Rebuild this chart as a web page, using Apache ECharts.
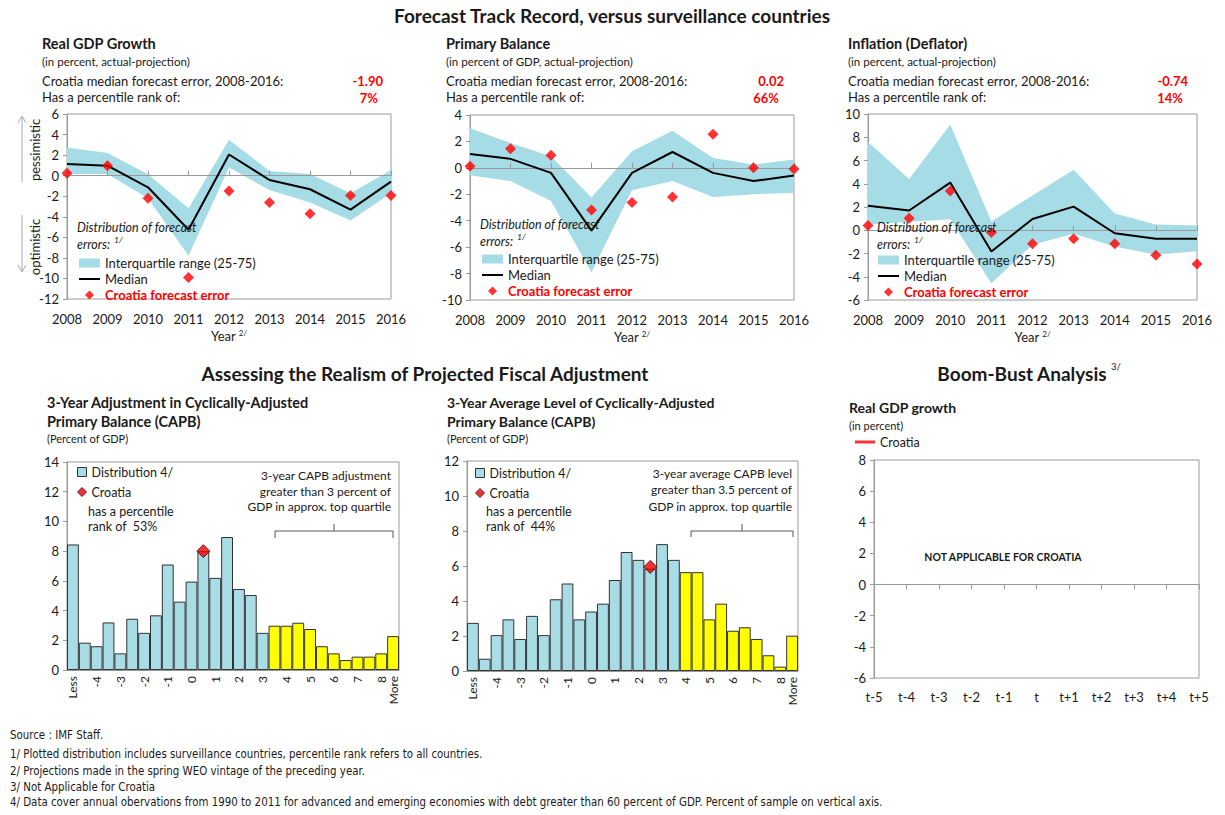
<!DOCTYPE html>
<html>
<head>
<meta charset="UTF-8">
<title>Forecast Track Record</title>
<script src="https://cdn.jsdelivr.net/npm/echarts@6/dist/echarts.min.js"></script>
<style>
  html, body { margin: 0; padding: 0; background: #fff; }
  #main { width: 1225px; height: 815px; }
</style>
</head>
<body>
<div id="main"></div>
<script type="text/javascript">
  // ---- data ----
  var years = ['2008', '2009', '2010', '2011', '2012', '2013', '2014', '2015', '2016'];

  // Real GDP growth forecast errors
  var gdpP25 = [0.16, 0.16, -2.2, -7.8, 0.8, -1.4, -2.6, -4.35, -1.7];
  var gdpP75 = [2.74, 2.2, 0.15, -3.16, 3.5, 0.45, 0.16, -1.7, 0.55];
  var gdpMedian = [1.13, 0.97, -1.13, -5.26, 2.06, -0.42, -1.32, -3.3, -0.58];
  var gdpCroatia = [0.23, 0.97, -2.2, -9.9, -1.48, -2.6, -3.7, -1.94, -1.94];

  // Primary balance forecast errors
  var pbP25 = [-0.55, -1.0, -2.5, -7.9, -1.7, -1.0, -2.2, -2.0, -1.88];
  var pbP75 = [3.0, 1.88, 0.88, -2.25, 1.25, 2.8, 0.75, 0.25, 0.63];
  var pbMedian = [1.05, 0.68, -0.38, -4.75, -0.38, 1.2, -0.38, -1.0, -0.58];
  var pbCroatia = [0.12, 1.45, 0.95, -3.18, -2.63, -2.2, 2.55, 0.0, -0.08];

  // Inflation (deflator) forecast errors
  var infP25 = [0.5, 0.74, 0.95, -4.55, -1.25, -0.3, -1.4, -2.1, -1.8];
  var infP75 = [7.6, 4.4, 9.1, 0.75, 3.0, 5.2, 1.45, 0.5, 0.4];
  var infMedian = [2.1, 1.7, 4.1, -1.83, 0.97, 2.03, -0.26, -0.74, -0.74];
  var infCroatia = [0.4, 1.03, 3.37, -0.2, -1.17, -0.74, -1.17, -2.14, -2.9];

  // CAPB histograms (percent of sample)
  var binLabels = ['Less', '-4.5', '-4', '-3.5', '-3', '-2.5', '-2', '-1.5', '-1', '-0.5', '0', '0.5', '1', '1.5',
                   '2', '2.5', '3', '3.5', '4', '4.5', '5', '5.5', '6', '6.5', '7', '7.5', '8', 'More'];
  var adjCounts = [8.45, 1.84, 1.6, 3.2, 1.12, 3.45, 2.5, 3.68, 7.1, 4.6, 5.95, 8.0, 6.2, 8.95,
                   5.45, 5.05, 2.5, 2.98, 2.98, 3.18, 2.76, 1.6, 1.12, 0.67, 0.9, 0.9, 1.12, 2.28];
  var lvlCounts = [2.75, 0.7, 2.05, 2.95, 1.83, 3.15, 2.05, 4.1, 5.0, 2.95, 3.4, 3.85, 5.2, 6.8,
                   6.35, 5.85, 7.25, 6.35, 5.65, 5.65, 2.95, 3.85, 2.3, 2.5, 1.83, 0.9, 0.25, 2.02];
  var adjTopStart = '3.5';   // first bin of the top quartile
  var lvlTopStart = '4';
  var adjCroatia = [['0.5', 8.0]];
  var lvlCroatia = [['2.5', 5.95]];

  // Boom-bust (not applicable)
  var boomLabels = ['t-5', 't-4', 't-3', 't-2', 't-1', 't', 't+1', 't+2', 't+3', 't+4', 't+5'];
  var boomCroatia = [];

  // ---- styling ----
  var FONT = 'Lato, "Liberation Sans", sans-serif';
  var BAND = '#a6dce6';
  var BAR = '#a9dde6';
  var RED = '#ff0000';
  var AXIS = '#9a9a9a';
  var TXT = '#1a1a1a';
  var DIAMOND = 'path://M5,0L10,5L5,10L0,5Z';

  var myChart = echarts.init(document.getElementById('main'), null, {renderer: 'svg'});

  function diff(up, lo) {
    return up.map(function (v, i) { return +(v - lo[i]).toFixed(2); });
  }

  function txt(x, y, text, o) {
    o = o || {};
    return {
      type: 'text', x: x, y: y, silent: true, z: 100,
      rotation: o.rotation || 0,
      style: {
        text: text,
        fill: o.color || TXT,
        fontSize: o.size || 13,
        fontWeight: o.bold ? 'bold' : 'normal',
        fontStyle: o.italic ? 'italic' : 'normal',
        fontFamily: o.family || FONT,
        align: o.align || 'left',
        textAlign: o.align || 'left',
        verticalAlign: 'middle',
        textVerticalAlign: 'middle'
      }
    };
  }

  function seg(pts, color) {
    return {type: 'polyline', silent: true, z: 100, shape: {points: pts},
            style: {stroke: color || '#555', lineWidth: 1, fill: null}};
  }

  // ---- grids ----
  var grids = [
    {left: 67, top: 114, width: 324, height: 185},
    {left: 470, top: 115, width: 324, height: 185},
    {left: 868, top: 114, width: 329, height: 186},
    {left: 67, top: 462, width: 332, height: 208},
    {left: 467, top: 461, width: 331, height: 210},
    {left: 874, top: 460, width: 325, height: 218}
  ].map(function (g) {
    g.show = true; g.borderColor = AXIS; g.borderWidth = 1; g.backgroundColor = '#fff';
    return g;
  });

  var xAxes = [];
  var yAxes = [];
  var series = [];

  function zeroAxis(g, cats, inside) {
    return {gridIndex: g, type: 'category', data: cats, boundaryGap: false, z: 3,
            axisLine: {onZero: true, lineStyle: {color: AXIS}},
            axisTick: {inside: inside, length: 5, interval: 0, lineStyle: {color: AXIS}},
            axisLabel: {show: false}, splitLine: {show: false}};
  }
  function labelAxis(g, cats, margin, withName) {
    var a = {gridIndex: g, type: 'category', data: cats, boundaryGap: false, position: 'bottom',
             axisLine: {show: false, onZero: false}, axisTick: {show: false},
             axisLabel: {interval: 0, margin: margin, fontSize: 13, color: TXT, fontFamily: FONT},
             splitLine: {show: false}};
    if (withName) {
      a.name = '{y|Year} {s|2/}';
      a.nameLocation = 'middle';
      a.nameGap = 30;
      a.nameTextStyle = {rich: {
        y: {fontSize: 13, color: TXT, fontFamily: FONT},
        s: {fontSize: 8, color: TXT, fontFamily: FONT, verticalAlign: 'top', padding: [0, 0, 6, 0]}
      }};
    }
    return a;
  }
  function valueAxis(g, min, max) {
    return {gridIndex: g, type: 'value', min: min, max: max, interval: 2,
            splitLine: {show: false},
            axisLine: {show: true, lineStyle: {color: AXIS}},
            axisTick: {show: true, length: 4, lineStyle: {color: AXIS}},
            axisLabel: {fontSize: 13, color: TXT, margin: 8, fontFamily: FONT}};
  }

  // top three panels
  var topData = [
    {p25: gdpP25, p75: gdpP75, med: gdpMedian, cro: gdpCroatia, min: -12, max: 6},
    {p25: pbP25, p75: pbP75, med: pbMedian, cro: pbCroatia, min: -10, max: 4},
    {p25: infP25, p75: infP75, med: infMedian, cro: infCroatia, min: -6, max: 10}
  ];
  topData.forEach(function (d, g) {
    var xi = xAxes.length;
    xAxes.push(zeroAxis(g, years, true));
    xAxes.push(labelAxis(g, years, 13, true));
    yAxes.push(valueAxis(g, d.min, d.max));
    series.push({
      type: 'line', xAxisIndex: xi, yAxisIndex: g, stack: 'band' + g, stackStrategy: 'all',
      data: d.p25, symbol: 'none', lineStyle: {opacity: 0}, silent: true, z: 1
    });
    series.push({
      name: 'Interquartile range (25-75)', type: 'line', xAxisIndex: xi, yAxisIndex: g,
      stack: 'band' + g, stackStrategy: 'all', data: diff(d.p75, d.p25), symbol: 'none',
      itemStyle: {color: BAND}, lineStyle: {opacity: 0}, areaStyle: {color: BAND, opacity: 1}, silent: true, z: 1
    });
    series.push({
      name: 'Median', type: 'line', xAxisIndex: xi, yAxisIndex: g, data: d.med, symbol: 'none',
      itemStyle: {color: '#000'}, lineStyle: {color: '#000', width: 2}, z: 4
    });
    series.push({
      name: 'Croatia forecast error', type: 'scatter', xAxisIndex: xi, yAxisIndex: g, data: d.cro,
      symbol: 'diamond', symbolSize: 11, itemStyle: {color: RED}, z: 5
    });
  });

  // histograms
  function histSeries(g, xi, counts, topStart, cro) {
    var cut = binLabels.indexOf(topStart);
    series.push({
      name: 'Distribution 4/', type: 'bar', xAxisIndex: xi, yAxisIndex: g, barCategoryGap: '0%',
      itemStyle: {color: BAR, borderColor: '#333', borderWidth: 1},
      data: counts.map(function (v, i) {
        return i >= cut ? {value: v, itemStyle: {color: '#ffff00'}} : v;
      })
    });
    series.push({
      name: 'Croatia', type: 'scatter', xAxisIndex: xi, yAxisIndex: g, data: cro,
      symbol: 'diamond', symbolSize: 13, itemStyle: {color: '#ee0000', borderColor: '#4a0000', borderWidth: 1}, z: 5
    });
  }
  [[3, adjCounts, 14, adjTopStart, adjCroatia], [4, lvlCounts, 12, lvlTopStart, lvlCroatia]].forEach(function (h) {
    var g = h[0];
    var xi = xAxes.length;
    xAxes.push({
      gridIndex: g, type: 'category', data: binLabels,
      axisLine: {lineStyle: {color: AXIS}},
      axisTick: {interval: 0, length: 4, lineStyle: {color: AXIS}},
      axisLabel: {rotate: 90, fontSize: 12, color: TXT, margin: 6, fontFamily: FONT,
                  hideOverlap: false, showMaxLabel: true,
                  interval: function (i) { return i % 2 === 0 || i === binLabels.length - 1; }}
    });
    yAxes.push(valueAxis(g, 0, h[2]));
    histSeries(g, xi, h[1], h[3], h[4]);
  });

  // boom-bust panel
  var bx = xAxes.length;
  xAxes.push(zeroAxis(5, boomLabels, false));
  xAxes.push(labelAxis(5, boomLabels, 12, false));
  yAxes.push(valueAxis(5, -6, 8));
  series.push({name: 'Croatia', type: 'line', xAxisIndex: bx, yAxisIndex: 5, data: boomCroatia,
               itemStyle: {color: RED}, lineStyle: {color: RED, width: 3}});

  // ---- legends ----
  function topLegend(left, top) {
    return {
      left: left, top: top, orient: 'vertical', selectedMode: false, padding: 0,
      itemWidth: 21, itemHeight: 9, itemGap: 0, symbolKeepAspect: true,
      textStyle: {fontSize: 13, lineHeight: 16, color: TXT, fontFamily: FONT},
      data: [
        {name: 'Interquartile range (25-75)', icon: 'rect', itemStyle: {color: BAND, borderWidth: 0}},
        {name: 'Median', icon: 'path://M0,0L21,0L21,2L0,2Z', itemStyle: {color: '#000', borderWidth: 0}},
        {name: 'Croatia forecast error', icon: DIAMOND, itemStyle: {color: RED, borderWidth: 0},
         textStyle: {color: RED, fontWeight: 'bold'}}
      ]
    };
  }
  function histLegend(left, top) {
    return {
      left: left, top: top, orient: 'vertical', selectedMode: false, padding: 0,
      itemWidth: 9, itemHeight: 9, itemGap: 6,
      textStyle: {fontSize: 12.5, lineHeight: 14, color: TXT, fontFamily: FONT},
      data: [
        {name: 'Distribution 4/', icon: 'rect', itemStyle: {color: BAR, borderColor: '#333', borderWidth: 1}},
        {name: 'Croatia', icon: DIAMOND, itemStyle: {color: '#ee0000', borderColor: '#4a0000', borderWidth: 1}}
      ]
    };
  }
  var legends = [
    topLegend(79, 255), topLegend(482, 251), topLegend(878, 252),
    histLegend(77, 465), histLegend(475, 466),
    {left: 855, top: 435, selectedMode: false, padding: 0, itemWidth: 20, itemHeight: 3,
     textStyle: {fontSize: 12.5, lineHeight: 14, color: TXT, fontFamily: FONT},
     data: [{name: 'Croatia', icon: 'rect', itemStyle: {color: RED, borderWidth: 0}}]}
  ];

  // ---- text annotations ----
  var g = [];
  g.push(txt(612, 15, 'Forecast Track Record, versus surveillance countries', {bold: true, size: 19, align: 'center'}));

  var panelX = [42, 446, 848];
  var panelTitles = ['Real GDP Growth', 'Primary Balance', 'Inflation (Deflator)'];
  var panelSubs = ['(in percent, actual-projection)', '(in percent of GDP, actual-projection)', '(in percent, actual-projection)'];
  var medErr = ['-1.90', '0.02', '-0.74'];
  var pctRank = ['7%', '66%', '14%'];
  var valX = [383, 784, 1188];
  var distX = [77, 480, 877];
  var distY = [227, 224, 227];
  for (var i = 0; i < 3; i++) {
    g.push(txt(panelX[i], 43, panelTitles[i], {bold: true, size: 14.5}));
    g.push(txt(panelX[i], 61, panelSubs[i], {size: 11.5}));
    g.push(txt(panelX[i], 81, 'Croatia median forecast error, 2008-2016:', {size: 13}));
    g.push(txt(panelX[i], 97, 'Has a percentile rank of:', {size: 13}));
    g.push(txt(valX[i], 81, medErr[i], {size: 13, bold: true, color: RED, align: 'right'}));
    g.push(txt(valX[i] - 5, 98, pctRank[i], {size: 13, bold: true, color: RED, align: 'right'}));
    g.push(txt(distX[i], distY[i], 'Distribution of forecast', {size: 12.5, italic: true}));
    g.push(txt(distX[i], distY[i] + 17, 'errors:', {size: 12.5, italic: true}));
    g.push(txt(distX[i] + 37, distY[i] + 13, '1/', {size: 8.5, italic: true}));
  }

  // pessimistic / optimistic arrows
  g.push(seg([[22, 182], [22, 117]], '#aaa'));
  g.push(seg([[18, 123], [22, 116], [26, 123]], '#aaa'));
  g.push(seg([[22, 215], [22, 271]], '#aaa'));
  g.push(seg([[18, 265], [22, 272], [26, 265]], '#aaa'));
  g.push(txt(35, 150, 'pessimistic', {size: 13, align: 'center', rotation: Math.PI / 2}));
  g.push(txt(35, 247, 'optimistic', {size: 13, align: 'center', rotation: Math.PI / 2}));

  // bottom headings
  g.push(txt(425, 373, 'Assessing the Realism of Projected Fiscal Adjustment', {bold: true, size: 19, align: 'center'}));
  g.push(txt(1022, 373, 'Boom-Bust Analysis', {bold: true, size: 19, align: 'center'}));
  g.push(txt(1111, 366, '3/', {size: 9.5}));

  var histX = [47, 447];
  var histT1 = ['3-Year Adjustment in Cyclically-Adjusted', '3-Year Average Level of Cyclically-Adjusted'];
  var histSize = [14.5, 14];
  for (var j = 0; j < 2; j++) {
    g.push(txt(histX[j], 402, histT1[j], {bold: true, size: histSize[j]}));
    g.push(txt(histX[j], 421, 'Primary Balance (CAPB)', {bold: true, size: histSize[j]}));
    g.push(txt(histX[j], 438, '(Percent of GDP)', {size: 11}));
  }
  g.push(txt(88, 511, 'has a percentile', {size: 12.5}));
  g.push(txt(88, 526, 'rank of  53%', {size: 12.5}));
  g.push(txt(486, 511, 'has a percentile', {size: 12.5}));
  g.push(txt(486, 526, 'rank of  44%', {size: 12.5}));

  g.push(txt(391, 475, '3-year CAPB adjustment', {size: 12, align: 'right'}));
  g.push(txt(391, 491, 'greater than 3 percent of', {size: 12, align: 'right'}));
  g.push(txt(391, 506, 'GDP in approx. top quartile', {size: 12, align: 'right'}));
  g.push(seg([[275, 538], [275, 531], [393, 531], [393, 538]], '#555'));
  g.push(seg([[334, 531], [334, 524]], '#555'));

  g.push(txt(792, 473, '3-year average CAPB level', {size: 12, align: 'right'}));
  g.push(txt(792, 489, 'greater than 3.5 percent of', {size: 12, align: 'right'}));
  g.push(txt(792, 506, 'GDP in approx. top quartile', {size: 12, align: 'right'}));
  g.push(seg([[691, 537], [691, 531], [793, 531], [793, 537]], '#555'));
  g.push(seg([[742, 531], [742, 524]], '#555'));

  g.push(txt(849, 407, 'Real GDP growth', {bold: true, size: 14}));
  g.push(txt(849, 425, '(in percent)', {size: 11}));
  g.push(txt(1003, 557, 'NOT APPLICABLE FOR CROATIA', {bold: true, size: 10.5, align: 'center'}));

  // footnotes
  var NARROW = '"Liberation Sans Narrow", "DejaVu Sans Condensed", sans-serif';
  var notes = [
    [735, 'Source : IMF Staff.'],
    [754, '1/ Plotted distribution includes surveillance countries, percentile rank refers to all countries.'],
    [771, '2/ Projections made in the spring WEO vintage of the preceding year.'],
    [787, '3/ Not Applicable for Croatia'],
    [802, '4/ Data cover annual obervations from 1990 to 2011 for advanced and emerging economies with debt greater than 60 percent of GDP. Percent of sample on vertical axis.']
  ];
  notes.forEach(function (n) {
    g.push(txt(10, n[0], n[1], {size: 11.4, family: NARROW}));
  });

  var option = {
    backgroundColor: '#fff',
    animation: false,
    textStyle: {fontFamily: FONT},
    grid: grids,
    xAxis: xAxes,
    yAxis: yAxes,
    legend: legends,
    series: series,
    graphic: g
  };
  myChart.setOption(option);
</script>
</body>
</html>
